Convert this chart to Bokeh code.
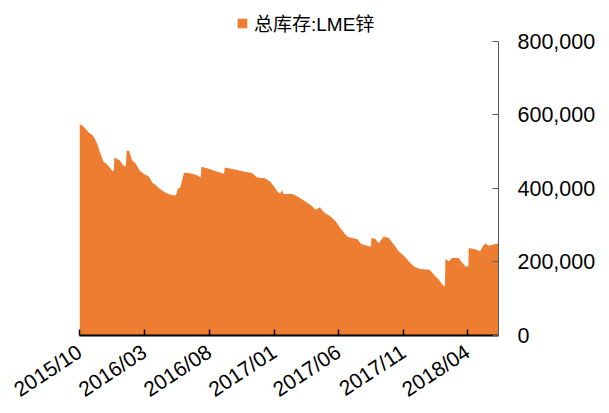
import pandas as pd
from bokeh.plotting import figure
from bokeh.models import (Range1d, FixedTicker, NumeralTickFormatter, DatetimeTickFormatter,
                          Legend, LegendItem)
from bokeh.embed import file_html
from bokeh.resources import INLINE

# ---- data ----
dates = [
    "2015-10-01", "2015-10-06", "2015-10-11", "2015-10-18", "2015-10-23", "2015-11-02",
    "2015-11-07", "2015-11-12", "2015-11-19", "2015-11-27", "2015-12-03", "2015-12-09",
    "2015-12-18", "2015-12-21", "2015-12-22", "2016-01-04", "2016-01-13", "2016-01-18",
    "2016-01-20", "2016-01-26", "2016-02-02", "2016-02-10", "2016-02-20", "2016-02-29",
    "2016-03-13", "2016-03-20", "2016-03-30", "2016-04-08", "2016-04-20", "2016-05-02",
    "2016-05-13", "2016-05-17", "2016-05-19", "2016-05-25", "2016-06-03", "2016-06-17",
    "2016-07-01", "2016-07-12", "2016-07-14", "2016-07-27", "2016-08-12", "2016-09-05",
    "2016-09-07", "2016-09-28", "2016-10-21", "2016-11-10", "2016-11-22", "2016-12-11",
    "2016-12-23", "2017-01-02", "2017-01-09", "2017-01-15", "2017-01-20", "2017-01-23",
    "2017-02-13", "2017-02-25", "2017-03-12", "2017-03-28", "2017-04-09", "2017-04-19",
    "2017-04-28", "2017-05-14", "2017-05-26", "2017-06-06", "2017-06-18", "2017-06-24",
    "2017-07-16", "2017-07-25", "2017-08-14", "2017-08-17", "2017-08-18", "2017-08-28",
    "2017-09-04", "2017-09-16", "2017-09-28", "2017-10-10", "2017-10-21", "2017-11-02",
    "2017-11-14", "2017-11-26", "2017-12-11", "2018-01-02", "2018-01-12", "2018-01-23",
    "2018-02-04", "2018-02-07", "2018-02-08", "2018-02-16", "2018-02-24", "2018-03-11",
    "2018-03-23", "2018-03-29", "2018-04-03", "2018-04-04", "2018-04-16", "2018-05-01",
    "2018-05-08", "2018-05-13", "2018-05-21", "2018-05-29", "2018-06-13",
]
stock = [
    575000, 572000, 568000, 558000, 552000, 543000,
    533000, 520000, 495000, 472000, 468000, 460000,
    447000, 449000, 484000, 476000, 462000, 461000,
    503000, 501000, 477000, 468000, 448000, 440000,
    432000, 416000, 407000, 398000, 389000, 383000,
    381000, 386000, 400000, 402000, 443000, 441000,
    437000, 430000, 459000, 455000, 449000, 440000,
    457000, 452000, 446000, 442000, 430000, 428000,
    418000, 403000, 391000, 386000, 396000, 385000,
    385000, 378000, 367000, 355000, 342000, 349000,
    335000, 324000, 310000, 292000, 274000, 268000,
    262000, 249000, 242000, 243000, 265000, 262000,
    251000, 269000, 265000, 247000, 229000, 217000,
    202000, 188000, 181000, 179000, 165000, 152000,
    134000, 136000, 208000, 202000, 211000, 211000,
    193000, 186000, 190000, 238000, 235000, 229000,
    244000, 250000, 244000, 247000, 250000,
]
series_name = "总库存:LME锌"
x_tick_dates = ["2015-10-01", "2016-03-01", "2016-08-01", "2017-01-01",
                "2017-06-01", "2017-11-01", "2018-04-01"]
y_ticks = [0, 200000, 400000, 600000, 800000]
y_max = 800000

x = pd.to_datetime(dates)
orange = "#ED7D31"
font = "Liberation Sans, Noto Sans CJK SC"

# layout (pixels)
W, H = 609, 413
left, top, frame_w = 79, 2, 419
axis_top, axis_bottom = 41, 336          # where 800,000 and 0 sit
frame_h = axis_bottom - top
y_end = y_max * frame_h / (axis_bottom - axis_top)

p = figure(width=W, height=H, output_backend="svg", toolbar_location=None,
           x_axis_type="datetime", y_axis_location="right",
           x_range=Range1d(pd.Timestamp("2015-10-01"), pd.Timestamp("2018-06-13")),
           y_range=Range1d(0, y_end),
           min_border_left=left, min_border_right=W - left - frame_w,
           min_border_top=top, min_border_bottom=H - axis_bottom)
p.outline_line_color = None
p.grid.visible = False
p.background_fill_color = "white"
p.border_fill_color = "white"

r = p.varea(x=x, y1=0, y2=stock, fill_color=orange)

# y axis (right)
ya = p.yaxis[0]
ya.ticker = FixedTicker(ticks=y_ticks)
ya.bounds = (0, y_max)
ya.formatter = NumeralTickFormatter(format="0,0")
ya.axis_line_color = "#595959"
ya.axis_line_width = 1
ya.major_tick_line_color = "#595959"
ya.major_tick_in = 6
ya.major_tick_out = 0
ya.minor_tick_line_color = None
ya.major_label_standoff = 19
ya.major_label_text_font = font
ya.major_label_text_font_size = "21.5px"
ya.major_label_text_color = "black"

# x axis (bottom)
xa = p.xaxis[0]
xa.ticker = FixedTicker(ticks=[pd.Timestamp(d).value // 10**6 for d in x_tick_dates])
fmt = "%Y/%m"
xa.formatter = DatetimeTickFormatter(years=fmt, months=fmt, days=fmt, hours=fmt,
                                     minutes=fmt, seconds=fmt, milliseconds=fmt,
                                     microseconds=fmt, hourmin=fmt, minsec=fmt)
xa.axis_line_color = "black"
xa.axis_line_width = 2
xa.major_tick_line_color = "black"
xa.major_tick_line_width = 1.5
xa.major_tick_in = 6
xa.major_tick_out = 0
xa.minor_tick_line_color = None
xa.major_label_orientation = 0.58
xa.major_label_standoff = 14
xa.major_label_text_font = font
xa.major_label_text_font_size = "21px"
xa.major_label_text_color = "black"

legend = Legend(items=[LegendItem(label=series_name, renderers=[r])],
                location=(157, axis_bottom - 37), orientation="horizontal",
                glyph_width=12, glyph_height=12, label_standoff=6,
                padding=0, margin=0, spacing=0,
                border_line_color=None, background_fill_alpha=0,
                label_text_font=font, label_text_font_size="19px",
                label_text_color="black")
p.add_layout(legend, "center")

open("out.html", "w").write(file_html(p, INLINE))
